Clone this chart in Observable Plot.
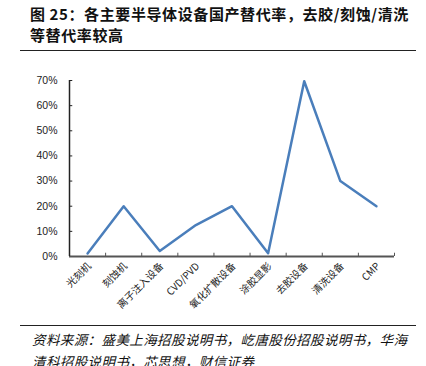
<!DOCTYPE html>
<html><head><meta charset="utf-8">
<script src="https://cdn.jsdelivr.net/npm/d3@7"></script>
<script src="https://cdn.jsdelivr.net/npm/@observablehq/plot@0.6"></script>
<style>
body{margin:0;background:#fff;width:426px;height:366px;overflow:hidden;position:relative;font-family:"Noto Sans CJK SC",sans-serif;}
#title{position:absolute;left:30px;top:3px;font-size:15px;font-weight:bold;line-height:21px;color:#111;width:390px;letter-spacing:0.6px}
.hr{position:absolute;left:20px;width:396px;height:0;border-top:1.5px solid #222}
#chart{position:absolute;left:0;top:55px}
#cap{position:absolute;left:32px;top:328px;font-size:13.5px;font-style:italic;line-height:22px;color:#111;width:394px;letter-spacing:0.4px;white-space:nowrap}
</style></head><body>
<div id="title">图 25：各主要半导体设备国产替代率，去胶/刻蚀/清洗等替代率较高</div>
<div class="hr" style="top:50px"></div>
<div id="chart"></div>
<div class="hr" style="top:325px"></div>
<div id="cap">资料来源：盛美上海招股说明书，屹唐股份招股说明书，华海<br>清科招股说明书，芯思想，财信证券</div>
<script>
const categories = ["光刻机","刻蚀机","离子注入设备","CVD/PVD","氧化扩散设备","涂胶显影","去胶设备","清洗设备","CMP"];
const rates = [1.2, 20, 2.2, 12.5, 20, 1.3, 69.7, 30, 20];
const yTicks = [0,10,20,30,40,50,60,70];

const data = categories.map((c,i)=>({c, i, x: i+0.5, v: rates[i]}));
const bounds = d3.range(categories.length+1);

const plot = Plot.plot({
  width: 426, height: 265,
  marginTop: 25, marginBottom: 64, marginLeft: 69, marginRight: 32,
  style: {fontFamily: "'Liberation Sans', 'Noto Sans CJK SC', Arial, sans-serif", fontSize: "10.5px", color: "#222", background: "transparent"},
  x: {domain: [0, categories.length], axis: null},
  y: {domain: [0, 70], axis: null},
  marks: [
    Plot.ruleY(yTicks, {x1: 0, x2: 0.09, stroke: "#222", strokeWidth: 1}),
    Plot.ruleX(bounds, {y1: 0, y2: 1.3, stroke: "#555", strokeWidth: 1}),
    Plot.ruleY([0], {x1: 0, x2: categories.length, stroke: "#555", strokeWidth: 2}),
    Plot.ruleX([0], {y1: 0, y2: 70, stroke: "#222", strokeWidth: 1.5}),
    Plot.text(yTicks, {x: 0, y: d=>d, text: d=>d+"%", textAnchor: "end", dx: -12, fill: "#222"}),
    Plot.text(data, {x: "x", y: 0, text: "c", rotate: -45, textAnchor: "end", dx: 2, dy: 8, fill: "#222", fontSize: 10, fontFamily: "'Noto Sans CJK SC', 'Liberation Sans', sans-serif"}),
    Plot.line(data, {x: "x", y: "v", stroke: "#4a7ebb", strokeWidth: 2.5})
  ]
});
document.getElementById("chart").appendChild(plot);
</script>
</body></html>
